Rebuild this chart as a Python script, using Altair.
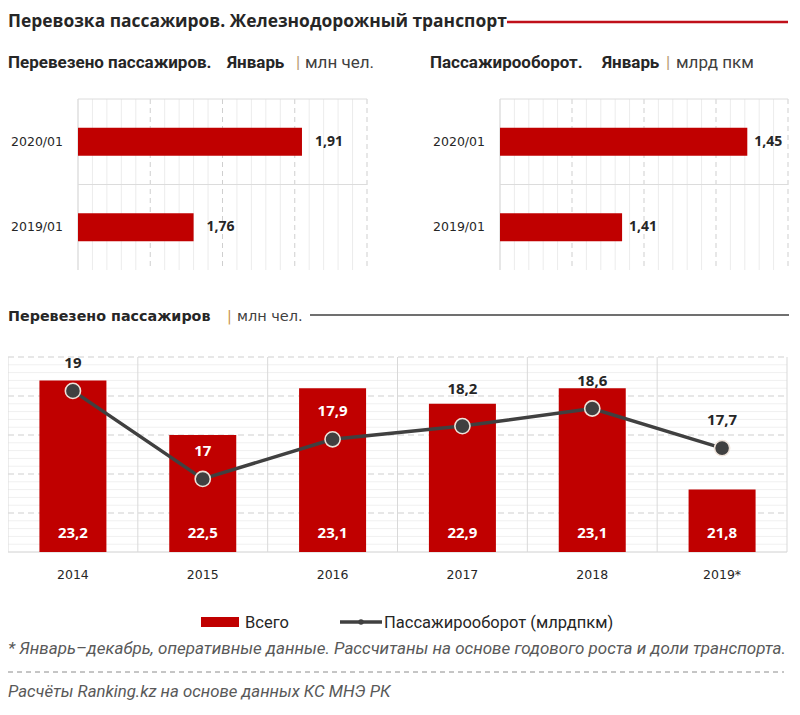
import altair as alt
import pandas as pd
import numpy as np

# ---------------- data ----------------
jan_periods = ["2020/01", "2019/01"]
jan_passengers = [1.91, 1.76]      # млн чел.
jan_turnover = [1.45, 1.41]        # млрд пкм

years = ["2014", "2015", "2016", "2017", "2018", "2019*"]
total_passengers = [23.2, 22.5, 23.1, 22.9, 23.1, 21.8]   # Всего, млн чел.
turnover = [19.0, 17.0, 17.9, 18.2, 18.6, 17.7]          # Пассажирооборот, млрд пкм

# ---------------- style ----------------
RED = "#C00000"
DARK = "#404040"
TXT = "#262626"
GRID_MAJ = "#cfcfcf"
GRID_MIN = "#ececec"
SUBF = "Roboto"
NUMF = "Open Sans"
AXF = "DejaVu Sans"

W, H = 784, 699


def fmt(v, nd=None):
    s = f"{v:.{nd}f}" if nd is not None else f"{v:g}"
    return s.replace(".", ",")


def one():
    return pd.DataFrame({"k": [0]})


def label(text, x, y, size=13, weight="normal", font=SUBF, color=TXT, style="normal", align="left"):
    return alt.Chart(pd.DataFrame({"t": [text]})).mark_text(
        align=align, baseline="alphabetic", fontSize=size, fontWeight=weight,
        font=font, color=color, fontStyle=style
    ).encode(x=alt.value(x), y=alt.value(y), text="t:N")


def hline(x0, x1, y, color, width=1.0, dash=None):
    kw = dict(color=color, strokeWidth=width)
    if dash:
        kw["strokeDash"] = dash
    return alt.Chart(one()).mark_rule(**kw).encode(
        x=alt.value(x0), x2=alt.value(x1), y=alt.value(y))


# ---------------- top panels ----------------
PY0, PY1 = 91, 262


def jan_panel(values, domain, x0, x1, label_x, dx=13):
    df = pd.DataFrame({"period": jan_periods, "value": values,
                       "lbl": [fmt(v, 2) for v in values]})
    xs = alt.Scale(domain=domain, range=[x0, x1], nice=False, zero=False)
    ys = alt.Scale(domain=jan_periods, range=[PY0, PY1], paddingInner=0, paddingOuter=0)
    ticks = np.linspace(domain[0], domain[1], 21)
    major = pd.DataFrame({"v": ticks[5::5]})
    minor = pd.DataFrame({"v": [t for i, t in enumerate(ticks) if i % 5 != 0]})
    left = pd.DataFrame({"v": [domain[0]]})

    vmin = alt.Chart(minor).mark_rule(color=GRID_MIN, strokeWidth=1).encode(
        x=alt.X("v:Q", scale=xs, axis=None), y=alt.value(PY0), y2=alt.value(PY1))
    vmaj = alt.Chart(major).mark_rule(color=GRID_MAJ, strokeWidth=1, strokeDash=[5, 4]).encode(
        x=alt.X("v:Q", scale=xs, axis=None), y=alt.value(PY0), y2=alt.value(PY1))
    vleft = alt.Chart(left).mark_rule(color=GRID_MAJ, strokeWidth=1).encode(
        x=alt.X("v:Q", scale=xs, axis=None), y=alt.value(PY0), y2=alt.value(PY1))
    hb = alt.Chart(df).mark_rule(color="#dcdcdc", strokeWidth=1).encode(
        y=alt.Y("period:N", scale=ys, axis=None, bandPosition=0),
        x=alt.value(x0), x2=alt.value(x1))
    bars = alt.Chart(df).mark_bar(size=28, color=RED).encode(
        x=alt.X("value:Q", scale=xs, axis=None),
        x2=alt.datum(domain[0]),
        y=alt.Y("period:N", scale=ys, axis=None))
    vals = alt.Chart(df).mark_text(align="left", baseline="middle", dx=dx, font=NUMF,
                                   fontWeight="bold", fontSize=14, color=TXT).encode(
        x=alt.X("value:Q", scale=xs, axis=None),
        y=alt.Y("period:N", scale=ys, axis=None), text="lbl:N")
    cats = alt.Chart(df).mark_text(align="right", baseline="middle", font=AXF,
                                   fontSize=12.5, color=TXT).encode(
        x=alt.value(label_x), y=alt.Y("period:N", scale=ys, axis=None), text="period:N")
    return alt.layer(vmin, vmaj, vleft, hb, bars, vals, cats)


top_left = jan_panel(jan_passengers, [1.6, 2.0], 70, 359, 55)
top_right = jan_panel(jan_turnover, [1.371, 1.463], 492, 780, 477, dx=7)

# ---------------- bottom chart ----------------
BX0, BX1 = 0, 779
BY0, BY1 = 349, 544
bdf = pd.DataFrame({
    "year": years,
    "total": total_passengers,
    "turn": turnover,
    "tl": [fmt(v) for v in total_passengers],
    "ul": [fmt(v) for v in turnover],
})
xb = alt.Scale(domain=years, range=[BX0, BX1], paddingInner=0, paddingOuter=0)
yl = alt.Scale(domain=[21.0, 23.5], range=[BY1, BY0], nice=False, zero=False)
yr = alt.Scale(domain=[15.34, 19.77], range=[BY1, BY0], nice=False, zero=False)

minor_b = pd.DataFrame({"v": [round(21.0 + 0.1 * i, 1) for i in range(26) if i % 5 != 0]})
major_b = pd.DataFrame({"v": [21.5, 22.0, 22.5, 23.0, 23.5]})
base_b = pd.DataFrame({"v": [21.0]})

g_min = alt.Chart(minor_b).mark_rule(color="#f0f0f0", strokeWidth=1).encode(
    y=alt.Y("v:Q", scale=yl, axis=None), x=alt.value(BX0), x2=alt.value(BX1))
g_maj = alt.Chart(major_b).mark_rule(color=GRID_MAJ, strokeWidth=1, strokeDash=[6, 4]).encode(
    y=alt.Y("v:Q", scale=yl, axis=None), x=alt.value(BX0), x2=alt.value(BX1))
g_base = alt.Chart(base_b).mark_rule(color="#d0d0d0", strokeWidth=1).encode(
    y=alt.Y("v:Q", scale=yl, axis=None), x=alt.value(BX0), x2=alt.value(BX1))
g_v = alt.Chart(bdf).mark_rule(color="#d9d9d9", strokeWidth=1).encode(
    x=alt.X("year:N", scale=xb, axis=None, bandPosition=0),
    y=alt.value(BY0), y2=alt.value(BY1))
g_vlast = alt.Chart(bdf.tail(1)).mark_rule(color="#d9d9d9", strokeWidth=1).encode(
    x=alt.X("year:N", scale=xb, axis=None, bandPosition=1),
    y=alt.value(BY0), y2=alt.value(BY1))
bars_b = alt.Chart(bdf).mark_bar(size=67, color=RED).encode(
    x=alt.X("year:N", scale=xb, axis=None),
    y=alt.Y("total:Q", scale=yl, axis=None), y2=alt.datum(21.0))
bar_lbl = alt.Chart(bdf).mark_text(baseline="middle", dy=-19, font=NUMF, fontWeight="bold",
                                   fontSize=15, color="white").encode(
    x=alt.X("year:N", scale=xb, axis=None),
    y=alt.datum(21.0), text="tl:N")
year_lbl = alt.Chart(bdf).mark_text(baseline="middle", font=AXF, fontSize=12.5, color=TXT).encode(
    x=alt.X("year:N", scale=xb, axis=None), y=alt.value(567), text="year:N")

left_layer = alt.layer(g_min, g_maj, g_base, g_v, g_vlast, bars_b, bar_lbl, year_lbl)

line = alt.Chart(bdf).mark_line(color=DARK, strokeWidth=3.5).encode(
    x=alt.X("year:N", scale=xb, axis=None),
    y=alt.Y("turn:Q", scale=yr, axis=None))
pts = alt.Chart(bdf).mark_point(filled=True, size=230, color=DARK, stroke="#efe3da",
                                strokeWidth=1.6, opacity=1).encode(
    x=alt.X("year:N", scale=xb, axis=None),
    y=alt.Y("turn:Q", scale=yr, axis=None))
lbl_color = alt.condition(alt.FieldOneOfPredicate(field="year", oneOf=["2015", "2016"]),
                          alt.value("white"), alt.value(TXT))
line_lbl = alt.Chart(bdf).transform_filter(
    alt.FieldOneOfPredicate(field="year", oneOf=["2014", "2015", "2016", "2018", "2019*"])
).mark_text(baseline="middle", dy=-28, font=NUMF, fontWeight="bold", fontSize=15).encode(
    x=alt.X("year:N", scale=xb, axis=None),
    y=alt.Y("turn:Q", scale=yr, axis=None), text="ul:N", color=lbl_color)
line_lbl2 = alt.Chart(bdf).transform_filter(
    alt.FieldOneOfPredicate(field="year", oneOf=["2017"])
).mark_text(baseline="middle", dy=-37, font=NUMF, fontWeight="bold", fontSize=15, color=TXT).encode(
    x=alt.X("year:N", scale=xb, axis=None),
    y=alt.Y("turn:Q", scale=yr, axis=None), text="ul:N")
right_layer = alt.layer(line, pts, line_lbl, line_lbl2)

bottom = alt.layer(left_layer, right_layer).resolve_scale(y="independent")

# ---------------- texts / decorations ----------------
deco = [
    label("Перевозка пассажиров. Железнодорожный транспорт", 0, 19, size=17.4, weight="bold", font="Open Sans"),
    hline(499, 780, 14, "#C0101A", width=2.5),
    label("Перевезено пассажиров.", 0, 60, size=17, weight="bold"),
    label("Январь", 219, 60, size=17, weight="bold"),
    label("|", 288, 60, size=17, color="#b89c70"),
    label("млн чел.", 297, 60, size=17, color="#404040"),
    label("Пассажирооборот.", 422, 60, size=17, weight="bold"),
    label("Январь", 594, 60, size=17, weight="bold"),
    label("|", 658, 60, size=17, color="#b89c70"),
    label("млрд пкм", 668, 60, size=17, color="#404040"),
    label("Перевезено пассажиров", 0, 313, size=14.3, weight="bold", font=AXF),
    label("|", 219, 313, size=14.3, font=AXF, color="#c8964a"),
    label("млн чел.", 229, 313, size=14.5, font=AXF, color="#404040"),
    hline(302, 781, 307, DARK, width=1.5),
    alt.Chart(one()).mark_rect(color=RED).encode(
        x=alt.value(193), x2=alt.value(231), y=alt.value(609), y2=alt.value(619)),
    label("Всего", 237, 620, size=16.5, color=TXT),
    hline(332, 374, 614, DARK, width=3.5),
    alt.Chart(one()).mark_point(filled=True, size=30, color=DARK, opacity=1).encode(
        x=alt.value(353), y=alt.value(614)),
    label("Пассажирооборот (млрдпкм)", 376, 620, size=16.5, color=TXT),
    label("* Январь–декабрь, оперативные данные. Рассчитаны на основе годового роста и доли транспорта.",
          0, 646, size=17, color="#595959", style="italic"),
    hline(0, 776, 664, "#8c8c8c", width=1, dash=[5, 4]),
    label("Расчёты Ranking.kz на основе данных  КС МНЭ РК", 0, 689, size=16.8, color="#595959", style="italic"),
]

chart = alt.layer(top_left, top_right, bottom, *deco).resolve_scale(
    x="independent", y="independent"
).properties(
    width=W, height=H, padding=0, autosize=alt.AutoSizeParams(type="none")
).configure_view(stroke=None)

chart.save("out.html", embed_options={"renderer": "svg", "actions": False})
